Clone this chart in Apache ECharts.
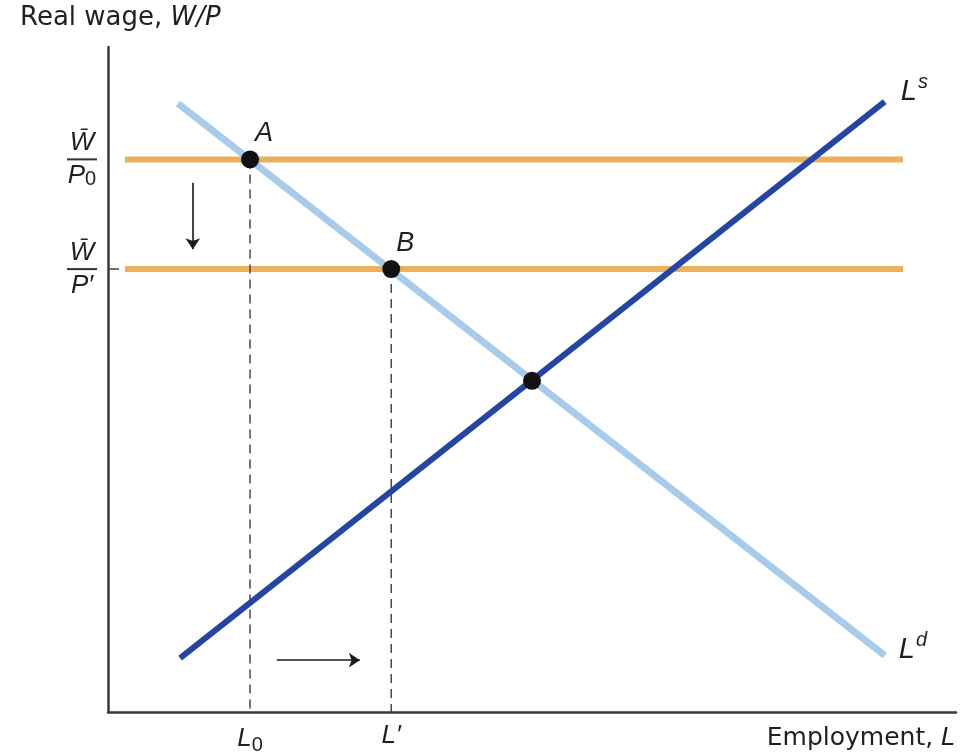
<!DOCTYPE html>
<html>
<head>
<meta charset="utf-8">
<script src="https://cdn.jsdelivr.net/npm/echarts@6/dist/echarts.min.js"></script>
<style>html,body{margin:0;padding:0;background:#fff}#c{width:979px;height:755px}</style>
</head>
<body>
<div id="c"></div>
<script>
// ---- data (diagram units: 0..100 on both axes) ----
var wageLevels = [83.1, 66.6];            // W̄/P0, W̄/P'
var wageLevelNames = ['P0', 'P\u2032'];
var wageLineX = [2.0, 93.75];             // horizontal extent of wage lines
var laborDemand = [[8.25, 91.5], [91.6, 8.5]];   // L^d
var laborSupply = [[8.5, 8.1], [91.6, 91.8]];    // L^s
var employmentLevels = [16.75, 33.4];     // L0, L'
var employmentNames = ['L0', 'L\u2032'];
var pointNames = ['A', 'B', ''];
var points = [[16.75, 83.1], [33.4, 66.6], [50.0, 49.8]];
var downArrow = [[10.0, 79.6], [10.0, 69.6]];
var rightArrow = [[19.9, 7.8], [29.7, 7.8]];

var FONT = 'Liberation Sans';
var TITLEFONT = 'DejaVu Sans';
var TXT = '#231f20';
var ORANGE = '#ebb05c';
var LIGHTBLUE = '#a8cbeb';
var DARKBLUE = '#2446a1';

var chart = echarts.init(document.getElementById('c'), null, {renderer: 'canvas'});

var series = [];
wageLevels.forEach(function (w, i) {
  series.push({
    type: 'line', name: 'wage' + i, silent: true,
    data: [[wageLineX[0], w], [wageLineX[1], w]],
    showSymbol: false, symbol: 'none',
    lineStyle: {color: ORANGE, width: 6}, z: 2
  });
});
employmentLevels.forEach(function (x, i) {
  series.push({
    type: 'line', name: 'dash' + i, silent: true,
    data: [[x, points[i][1]], [x, 0]],
    symbol: 'none',
    lineStyle: {color: '#4a4a4a', width: 1.5, type: [9, 6]}, z: 3
  });
});
series.push({
  type: 'line', name: 'Ld', data: laborDemand, symbol: 'none', silent: true,
  lineStyle: {color: LIGHTBLUE, width: 7}, z: 4,
  endLabel: {
    show: true, formatter: '{l|L}{s|d}', offset: [6, -6],
    rich: {
      l: {fontFamily: FONT, fontStyle: 'italic', fontSize: 29, color: TXT},
      s: {fontFamily: FONT, fontStyle: 'italic', fontSize: 20, color: TXT, padding: [0, 0, 18, 1]}
    }
  }
});
series.push({
  type: 'line', name: 'Ls', data: laborSupply, symbol: 'none', silent: true,
  lineStyle: {color: DARKBLUE, width: 6}, z: 5,
  endLabel: {
    show: true, formatter: '{l|L}{s|s}', offset: [8, -10],
    rich: {
      l: {fontFamily: FONT, fontStyle: 'italic', fontSize: 29, color: TXT},
      s: {fontFamily: FONT, fontStyle: 'italic', fontSize: 20, color: TXT, padding: [0, 0, 18, 1]}
    }
  }
});
series.push({
  type: 'scatter', name: 'pts', silent: true, z: 6,
  data: points.map(function (p, i) {
    return {value: p, label: {show: !!pointNames[i], formatter: pointNames[i]}};
  }),
  symbol: 'circle', symbolSize: 18,
  itemStyle: {color: '#111', opacity: 1},
  label: {position: 'top', offset: [14, 2], fontFamily: FONT, fontStyle: 'italic', fontSize: 27, color: TXT, opacity: 1}
});
series.push({
  type: 'lines', coordinateSystem: 'cartesian2d', silent: true, z: 6,
  data: [{coords: downArrow}, {coords: rightArrow}],
  symbol: ['none', 'arrow'], symbolSize: 11,
  lineStyle: {color: '#1a1a1a', width: 1.6, opacity: 1}
});

var option = {
  animation: false,
  backgroundColor: '#fff',
  grid: {left: 108, right: 23, top: 47, bottom: 41},
  xAxis: {
    type: 'value', min: 0, max: 100,
    splitLine: {show: false},
    axisLine: {show: true, onZero: false, lineStyle: {color: '#3a3a3a', width: 2.5}},
    axisTick: {show: false},
    axisLabel: {
      customValues: employmentLevels, margin: 11,
      formatter: function (v) {
        var i = employmentLevels.indexOf(v);
        var n = employmentNames[i] || '';
        return n.length > 1 && n[1] === '0' ? '{l|L}{sub|0}' : '{l|' + n + '}';
      },
      rich: {
        l: {fontFamily: FONT, fontStyle: 'italic', fontSize: 26, color: TXT},
        sub: {fontFamily: FONT, fontSize: 20, color: TXT, padding: [12, 0, 0, 0]}
      }
    }
  },
  yAxis: {
    type: 'value', min: 0, max: 100,
    splitLine: {show: false},
    axisLine: {show: true, onZero: false, lineStyle: {color: '#3a3a3a', width: 2.5}},
    axisTick: {show: true, inside: true, length: 11, customValues: [wageLevels[1]], lineStyle: {color: '#444', width: 1.5}},
    axisLabel: {
      customValues: wageLevels, margin: 26, align: 'center',
      formatter: function (v) {
        var i = wageLevels.indexOf(v);
        var d = wageLevelNames[i];
        var den = d === 'P0' ? '{den|P}{sub|0}' : '{den|' + d + '}';
        return '{num|W\u0304}\n{bar| }\n' + den;
      },
      rich: {
        num: {fontFamily: FONT, fontStyle: 'italic', fontSize: 26, color: TXT, lineHeight: 27, align: 'center'},
        bar: {width: 30, height: 2, lineHeight: 6, backgroundColor: '#333', fontSize: 2, align: 'center'},
        den: {fontFamily: FONT, fontStyle: 'italic', fontSize: 26, color: TXT, lineHeight: 27, align: 'center'},
        sub: {fontFamily: FONT, fontSize: 20, color: TXT, lineHeight: 27, padding: [8, 0, 0, 0]}
      }
    }
  },
  graphic: [
    {type: 'text', left: 20, top: 5, style: {
      text: '{n|Real wage, }{i|W/P}',
      rich: {
        n: {fontFamily: TITLEFONT, fontSize: 26, fill: TXT},
        i: {fontFamily: TITLEFONT, fontStyle: 'italic', fontSize: 26, fill: TXT}
      }
    }},
    {type: 'text', right: 24, top: 726, style: {
      text: '{n|Employment, }{i|L}',
      rich: {
        n: {fontFamily: TITLEFONT, fontSize: 25, fill: TXT},
        i: {fontFamily: TITLEFONT, fontStyle: 'italic', fontSize: 25, fill: TXT}
      }
    }}
  ],
  series: series
};
chart.setOption(option);
</script>
</body>
</html>
